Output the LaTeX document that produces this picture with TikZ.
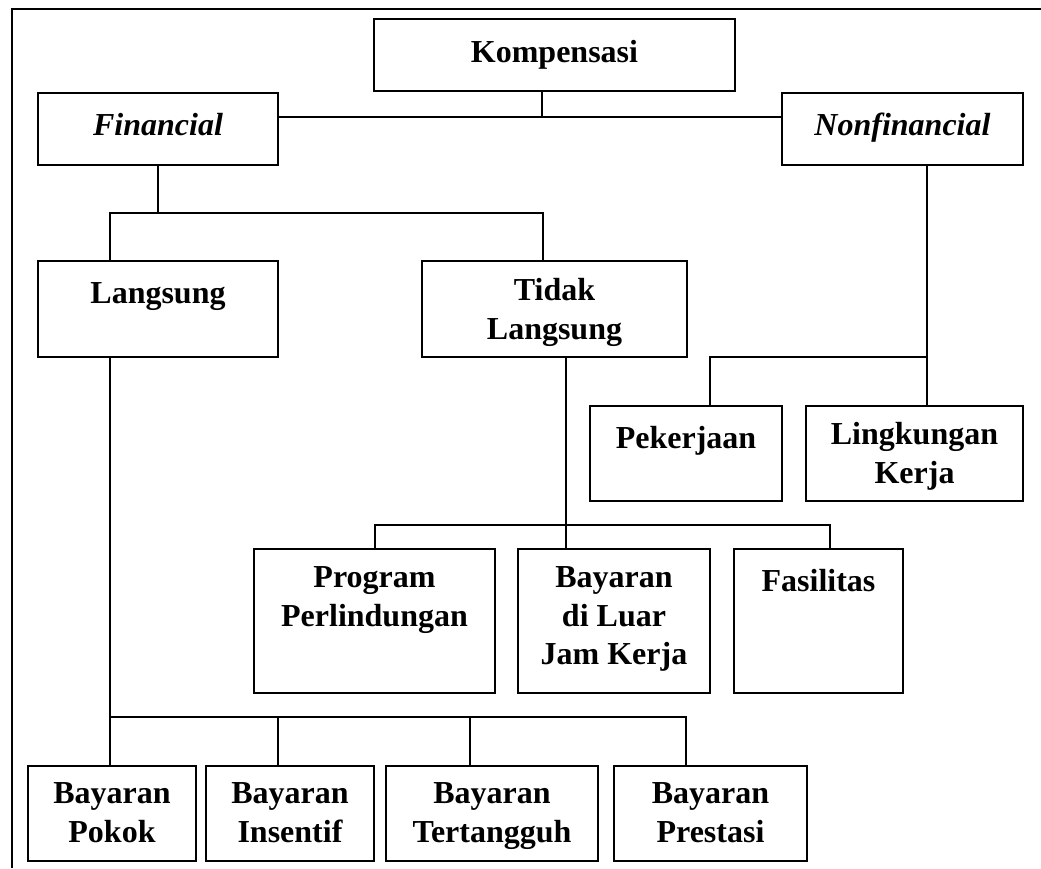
\documentclass[tikz,border=0pt]{standalone}
\usepackage{fontspec}
\setmainfont{Liberation Serif}
\begin{document}
\begin{tikzpicture}[x=0.75pt,y=-0.75pt,
  box/.style 2 args={draw, line width=1.1pt, inner sep=0pt, minimum width=#1*0.75pt, minimum height=#2*0.75pt},
  txt/.style={font=\fontsize{24}{29}\selectfont\bfseries, align=center, inner sep=0pt, anchor=north},
  itxt/.style={txt, font=\fontsize{24}{29}\selectfont\bfseries\itshape},
  conn/.style={draw, line width=0.9pt, line cap=rect},
  frame/.style={draw, line width=1.2pt}]
\useasboundingbox (0,0) rectangle (1041,868);
% outer frame (cropped)
\draw[frame] (12,868) -- (12,9) -- (1041,9);
% boxes
\node[box={361}{72}] (K) at (554.5,55) {};
\node[box={240}{72}] (F) at (158,129) {};
\node[box={241}{72}] (NF) at (902.5,129) {};
\node[box={240}{96}] (L) at (158,309) {};
\node[box={265}{96}] (TL) at (554.5,309) {};
\node[box={192}{95}] (P) at (686,453.5) {};
\node[box={217}{95}] (LK) at (914.5,453.5) {};
\node[box={241}{144}] (PP) at (374.5,621) {};
\node[box={192}{144}] (BL) at (614,621) {};
\node[box={169}{144}] (Fa) at (818.5,621) {};
\node[box={168}{95}] (BP) at (112,813.5) {};
\node[box={168}{95}] (BI) at (290,813.5) {};
\node[box={212}{95}] (BT) at (492,813.5) {};
\node[box={193}{95}] (BPr) at (710.5,813.5) {};
% texts
\node[txt] (Kt) at (554.5,35) {\strut Kompensasi};
\node[itxt] (Ft) at (158,108) {\strut Financial};
\node[itxt] (NFt) at (902.5,108) {\strut Nonfinancial};
\node[txt] (Lt) at (158,276) {\strut Langsung};
\node[txt] (TLt) at (554.5,273) {\strut Tidak\\\strut Langsung};
\node[txt] (Pt) at (686,421) {\strut Pekerjaan};
\node[txt] (LKt) at (914.5,417) {\strut Lingkungan\\\strut Kerja};
\node[txt] (PPt) at (374.5,560) {\strut Program\\\strut Perlindungan};
\node[txt] (BLt) at (614,560) {\strut Bayaran\\\strut di Luar\\\strut Jam Kerja};
\node[txt] (Fat) at (818.5,564) {\strut Fasilitas};
\node[txt] (BPt) at (112,776) {\strut Bayaran\\\strut Pokok};
\node[txt] (BIt) at (290,776) {\strut Bayaran\\\strut Insentif};
\node[txt] (BTt) at (492,776) {\strut Bayaran\\\strut Tertangguh};
\node[txt] (BPrt) at (710.5,776) {\strut Bayaran\\\strut Prestasi};
% connectors: Kompensasi
\coordinate (jK) at (542,117);
\draw[conn] (K.south -| jK) -- (jK);
\draw[conn] (F.east |- jK) -- (NF.west |- jK);
% Financial
\coordinate (jF) at (158,213);
\coordinate (bL) at (110,213);
\coordinate (bTL) at (543,213);
\draw[conn] (F.south) -- (jF);
\draw[conn] (L.north -| bL) -- (bL) -- (bTL) -- (TL.north -| bTL);
% Langsung
\coordinate (jL) at (110,717);
\coordinate (b2) at (278,717);
\coordinate (b3) at (470,717);
\coordinate (b4) at (686,717);
\draw[conn] (L.south -| jL) -- (BP.north -| jL);
\draw[conn] (jL) -- (b4) -- (BPr.north -| b4);
\draw[conn] (b2) -- (BI.north -| b2);
\draw[conn] (b3) -- (BT.north -| b3);
% Tidak Langsung
\coordinate (jT) at (566,525);
\coordinate (t1) at (375,525);
\coordinate (t3) at (830,525);
\draw[conn] (TL.south -| jT) -- (BL.north -| jT);
\draw[conn] (PP.north -| t1) -- (t1) -- (t3) -- (Fa.north -| t3);
% Nonfinancial
\coordinate (jN) at (927,357);
\coordinate (n1) at (710,357);
\draw[conn] (NF.south -| jN) -- (LK.north -| jN);
\draw[conn] (P.north -| n1) -- (n1) -- (jN);
\end{tikzpicture}
\end{document}
